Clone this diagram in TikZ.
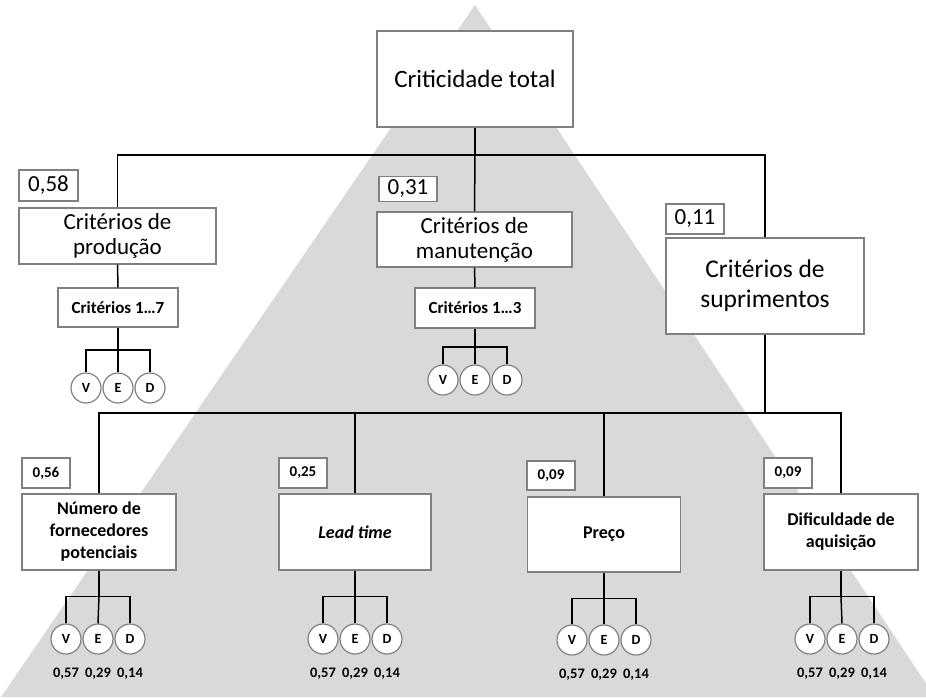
\documentclass[tikz,border=0pt]{standalone}
\usepackage{fontspec}
\setmainfont{Carlito}
\begin{document}
\begin{tikzpicture}[x=1pt,y=-1pt,
  box/.style={draw=black!50,fill=white,line width=1.3pt,inner sep=0pt,align=center,rectangle},
  wt/.style={box,font=\fontsize{23}{25}\selectfont},
  wts/.style={box,font=\bfseries\fontsize{15}{17}\selectfont},
  crit/.style={box,font=\fontsize{23}{25}\selectfont},
  sub/.style={box,font=\bfseries\fontsize{17}{19}\selectfont},
  leaf/.style={box,font=\bfseries\fontsize{18}{22}\selectfont},
  ved/.style={circle,draw=black!50,fill=white,line width=1.2pt,minimum size=30pt,inner sep=0pt,font=\bfseries\fontsize{14}{16}\selectfont},
  val/.style={font=\bfseries\fontsize{14.5}{16}\selectfont,inner sep=0pt},
  link/.style={draw=black,line width=1.5pt},
  trunk/.style={draw=black,line width=2.6pt}]
\useasboundingbox (0,0) rectangle (926,697);
% grey pyramid in the background
\fill[black!15] (475,5) -- (1,697) -- (935,697) -- cycle;

% top level
\node[crit,minimum width=196pt,minimum height=96pt,font=\fontsize{25}{28}\selectfont] (tot) at (475,79) {Criticidade total};

% first level
\node[wt,minimum width=59pt,minimum height=31pt] (w1) at (48.5,185.5) {0,58};
\node[crit,minimum width=197pt,minimum height=56pt] (p) at (117.5,236) {Critérios de\\produção};
\node[sub,minimum width=120pt,minimum height=39pt] (p7) at (118,307.5) {Critérios 1…7};
\node[ved] (pv) at (86,388) {V};
\node[ved] (pe) at (118,388) {E};
\node[ved] (pd) at (150,388) {D};

\node[wt,minimum width=58pt,minimum height=25pt] (w2) at (408,189) {0,31};
\node[crit,minimum width=195pt,minimum height=55pt] (m) at (474.5,239.5) {Critérios de\\manutenção};
\node[sub,minimum width=120pt,minimum height=40pt] (m3) at (475,308) {Critérios 1…3};
\node[ved] (mv) at (443,380) {V};
\node[ved] (me) at (475,380) {E};
\node[ved] (md) at (507,380) {D};

\node[wt,minimum width=58pt,minimum height=30pt] (w3) at (695,219) {0,11};
\node[crit,minimum width=198pt,minimum height=96pt,font=\fontsize{25.5}{30}\selectfont] (s) at (765,286) {Critérios de\\suprimentos};

% supply sub-criteria
\node[wts,minimum width=48pt,minimum height=30pt] (w4) at (46,473) {0,56};
\node[leaf,minimum width=154pt,minimum height=76pt] (n) at (99,532) {Número de\\fornecedores\\potenciais};
\node[wts,minimum width=48pt,minimum height=30pt] (w5) at (303,473) {0,25};
\node[leaf,minimum width=152pt,minimum height=76pt] (l) at (355,532) {\itshape Lead time};
\node[wts,minimum width=48pt,minimum height=29pt] (w6) at (551,475.5) {0,09};
\node[leaf,minimum width=153pt,minimum height=75pt] (pr) at (604,534.5) {Preço};
\node[wts,minimum width=48pt,minimum height=30pt] (w7) at (788,473) {0,09};
\node[leaf,minimum width=154pt,minimum height=76pt] (d) at (841,532) {Dificuldade de\\aquisição};

\foreach \b/\x/\y in {n/98/639,l/355/639,pr/604/640,d/842/639}{
  \node[ved] (\b v) at (\x-32,\y) {V};
  \node[ved] (\b e) at (\x,\y) {E};
  \node[ved] (\b d) at (\x+32,\y) {D};
  \node[val] (\b v0) at (\x-32,\y+35) {0,57};
  \node[val] (\b e0) at (\x,\y+35) {0,29};
  \node[val] (\b d0) at (\x+32,\y+35) {0,14};
}

% connectors
\coordinate (b0) at (475,155);
\draw[link] (tot.south) -- (b0);
\draw[link] (p.north) |- (b0) -| (s.north);
\draw[link] (b0) -- (m.north);

\draw[link] (p.south) -- (p7.north);
\coordinate (pb) at (118,350);
\draw[link] (p7.south) -- (pb);
\draw[link] (pv.north) |- (pb) -| (pd.north);
\draw[link] (pb) -- (pe.north);

\draw[link] (m.south) -- (m3.north);
\coordinate (mb) at (475,347);
\draw[link] (m3.south) -- (mb);
\draw[link] (mv.north) |- (mb) -| (md.north);
\draw[link] (mb) -- (me.north);

\coordinate (sb) at (765,413);
\draw[trunk] (s.south) -- (sb);
\draw[link] (n.north) |- (sb) -| (d.north);
\draw[link] (l.north) -- (l.north |- sb);
\draw[link] (pr.north) -- (pr.north |- sb);

\foreach \b in {n,l,pr,d}{
  \coordinate (\b b) at ([yshift=-26pt]\b.south);
  \draw[link] (\b.south) -- (\b b);
  \draw[link] (\b v.north) |- (\b b) -| (\b d.north);
  \draw[link] (\b b) -- (\b e.north);
}
\end{tikzpicture}
\end{document}
